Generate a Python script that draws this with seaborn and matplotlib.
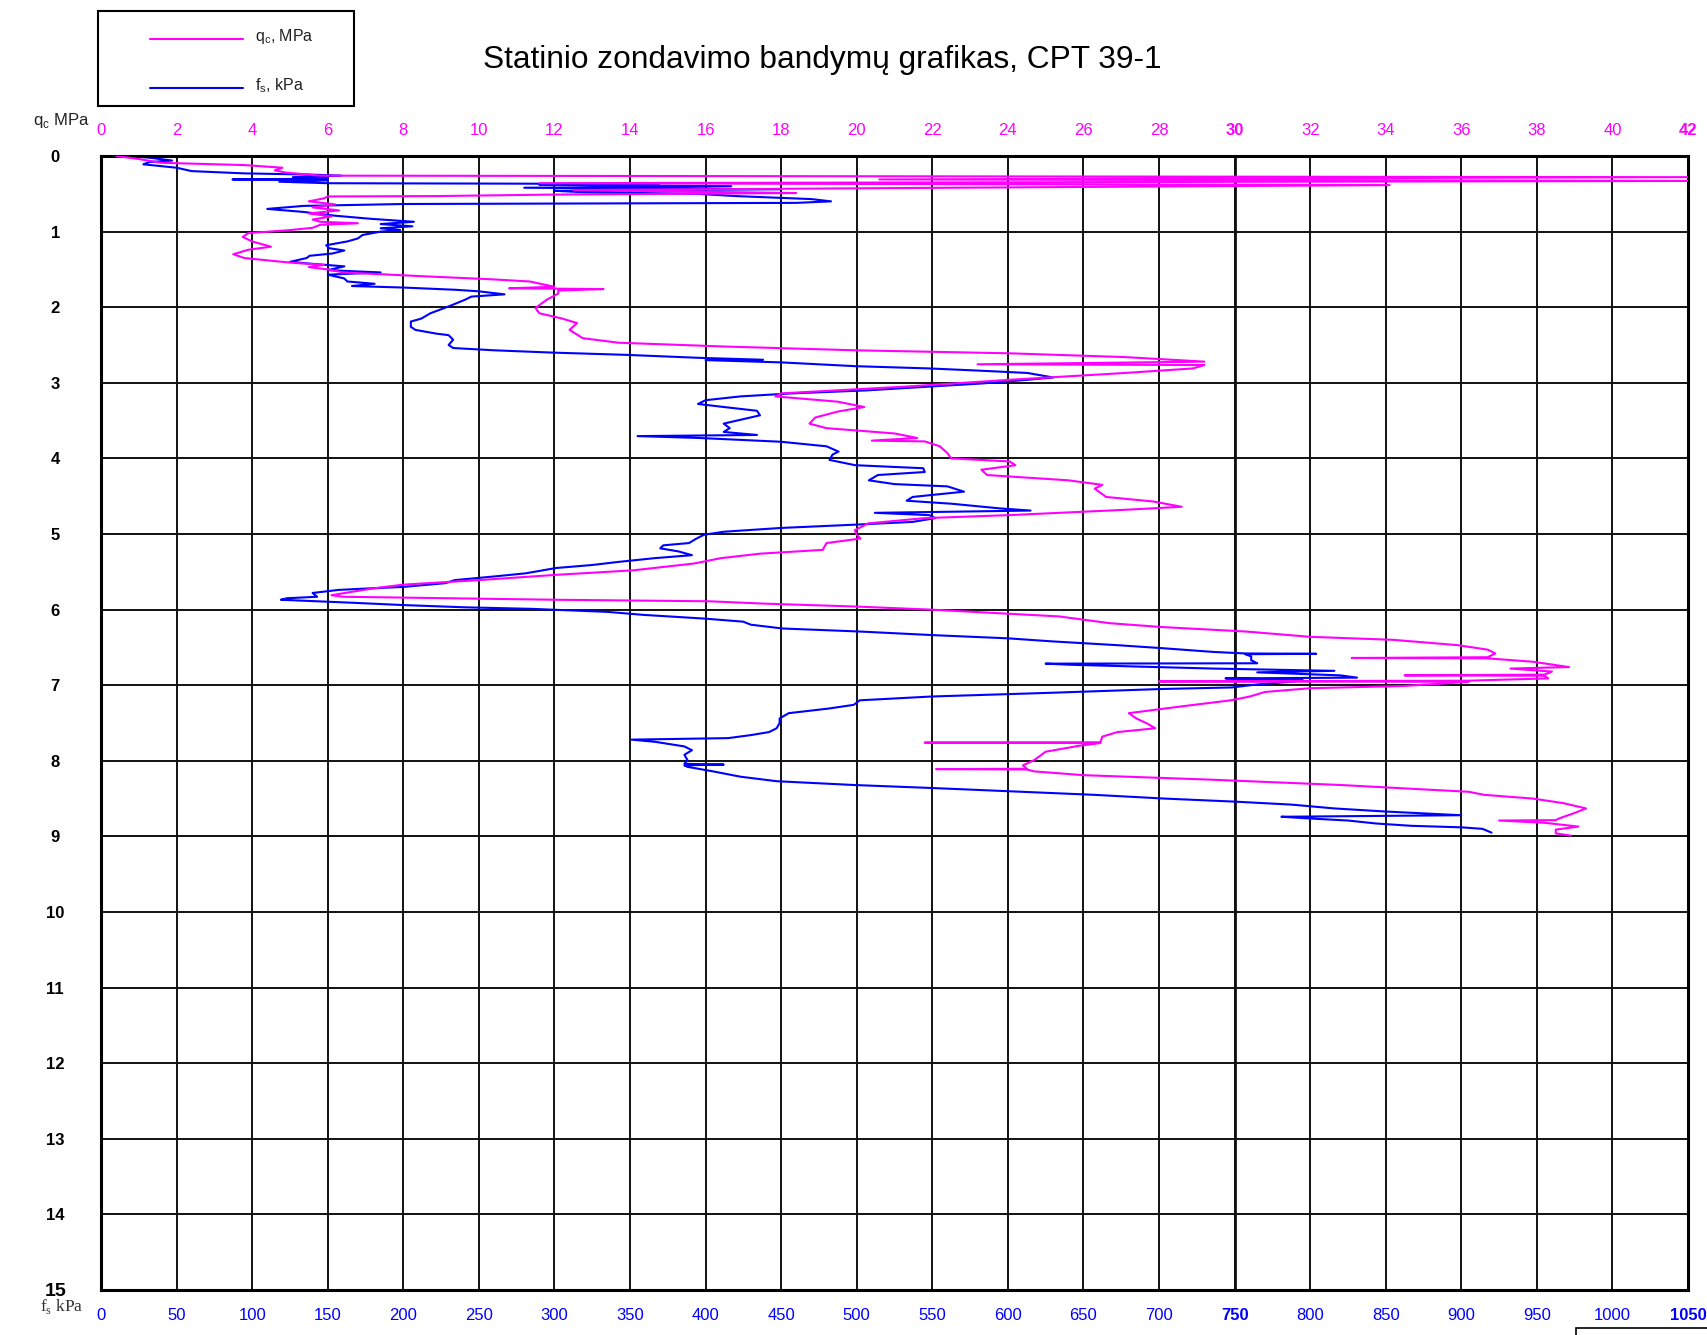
import matplotlib
matplotlib.use("Agg")
import matplotlib.pyplot as plt
from matplotlib.patches import Rectangle
from matplotlib.lines import Line2D
import seaborn as sns

# CPT 39-1 sounding
# cone resistance qc (MPa) vs depth (m)
qc_depth = [
    0.00, 0.04, 0.09, 0.12, 0.155, 0.19, 0.22, 0.26, 0.28, 0.31,
    0.33, 0.36, 0.385, 0.45, 0.49, 0.51, 0.53, 0.535, 0.56, 0.60,
    0.64, 0.68, 0.72, 0.76, 0.80, 0.84, 0.87, 0.89, 0.91, 0.95,
    0.98, 1.02, 1.07, 1.13, 1.20, 1.24, 1.30, 1.35, 1.41, 1.44,
    1.47, 1.50, 1.54, 1.59, 1.63, 1.66, 1.73, 1.75, 1.76, 1.78,
    1.82, 1.90, 2.01, 2.08, 2.15, 2.21, 2.30, 2.41, 2.47, 2.52,
    2.57, 2.61, 2.66, 2.72, 2.755, 2.765, 2.81, 2.87, 2.96, 3.05,
    3.14, 3.18, 3.25, 3.32, 3.38, 3.46, 3.54, 3.60, 3.67, 3.73,
    3.765, 3.775, 3.84, 3.93, 4.00, 4.04, 4.09, 4.15, 4.22, 4.29,
    4.35, 4.40, 4.51, 4.57, 4.64, 4.68, 4.75, 4.79, 4.86, 4.95,
    5.01, 5.06, 5.12, 5.21, 5.26, 5.32, 5.39, 5.48, 5.54, 5.61,
    5.67, 5.72, 5.76, 5.81, 5.83, 5.87, 5.89, 5.92, 5.96, 6.00,
    6.09, 6.18, 6.23, 6.29, 6.36, 6.40, 6.47, 6.53, 6.58, 6.63,
    6.64, 6.645, 6.69, 6.76, 6.78, 6.82, 6.86, 6.87, 6.875, 6.91,
    6.94, 6.95, 6.955, 7.01, 7.04, 7.09, 7.15, 7.20, 7.28, 7.37,
    7.44, 7.51, 7.57, 7.62, 7.68, 7.755, 7.76, 7.765, 7.80, 7.88,
    7.99, 8.06, 8.105, 8.11, 8.115, 8.14, 8.19, 8.25, 8.32, 8.41,
    8.45, 8.50, 8.56, 8.63, 8.69, 8.76, 8.785, 8.79, 8.82, 8.87,
    8.91, 8.96, 8.99,
]
qc_mpa = [
    0.4, 1.0, 1.6, 3.8, 4.8, 4.6, 4.9, 5.8, 42.0, 20.6,
    42.0, 11.6, 34.1, 12.5, 18.4, 12.0, 8.9, 6.0, 5.9, 5.5,
    6.2, 5.6, 6.3, 5.5, 6.1, 5.6, 5.8, 6.8, 5.8, 5.6,
    5.0, 3.9, 3.75, 4.0, 4.5, 3.9, 3.5, 3.8, 5.0, 5.9,
    5.5, 6.0, 6.4, 8.5, 10.3, 11.35, 12.0, 10.8, 13.3, 12.1,
    12.1, 11.8, 11.5, 11.6, 12.2, 12.6, 12.4, 12.75, 13.7, 16.5,
    19.95, 24.05, 27.1, 29.2, 23.2, 29.2, 28.9, 27.1, 24.05, 21.3,
    18.0, 17.85, 19.5, 20.2, 19.5, 18.9, 18.75, 19.2, 21.0, 21.6,
    20.4, 21.8, 22.2, 22.4, 22.5, 24.05, 24.2, 23.3, 23.45, 25.6,
    26.5, 26.3, 26.6, 27.85, 28.6, 27.1, 24.05, 21.8, 20.3, 19.95,
    20.0, 20.1, 19.2, 19.1, 17.45, 16.4, 15.7, 14.1, 12.05, 10.0,
    8.0, 7.2, 6.7, 6.1, 6.4, 12.05, 16.1, 17.5, 20.0, 21.95,
    25.35, 26.7, 28.05, 30.3, 32.0, 34.2, 35.9, 36.7, 36.9, 36.7,
    33.1, 36.7, 37.9, 38.85, 37.3, 38.4, 38.2, 34.5, 38.2, 38.3,
    36.2, 28.0, 36.2, 34.5, 32.0, 30.8, 30.4, 29.9, 28.6, 27.2,
    27.4, 27.7, 27.9, 26.9, 26.5, 26.45, 21.8, 26.45, 25.9, 25.0,
    24.7, 24.4, 24.5, 22.1, 24.5, 24.7, 26.0, 29.4, 32.8, 36.2,
    36.6, 37.9, 38.7, 39.3, 39.0, 38.6, 38.5, 37.0, 38.2, 39.1,
    38.5, 38.5, 38.9,
]

# sleeve friction fs (kPa) vs depth (m)
fs_depth = [
    0.00, 0.005, 0.02, 0.06, 0.08, 0.11, 0.155, 0.20, 0.23, 0.245,
    0.26, 0.28, 0.30, 0.31, 0.32, 0.34, 0.36, 0.37, 0.38, 0.40,
    0.42, 0.44, 0.46, 0.48, 0.50, 0.53, 0.57, 0.60, 0.62, 0.635,
    0.66, 0.70, 0.74, 0.79, 0.83, 0.87, 0.90, 0.93, 0.956, 0.98,
    1.00, 1.045, 1.09, 1.13, 1.18, 1.22, 1.25, 1.29, 1.32, 1.35,
    1.40, 1.42, 1.46, 1.51, 1.54, 1.57, 1.62, 1.66, 1.69, 1.72,
    1.74, 1.77, 1.79, 1.83, 1.86, 1.90, 1.99, 2.08, 2.15, 2.19,
    2.26, 2.30, 2.35, 2.37, 2.43, 2.50, 2.54, 2.57, 2.60, 2.63,
    2.67, 2.695, 2.70, 2.73, 2.78, 2.81, 2.84, 2.87, 2.93, 2.96,
    3.01, 3.05, 3.10, 3.14, 3.18, 3.23, 3.28, 3.32, 3.37, 3.43,
    3.49, 3.54, 3.60, 3.65, 3.69, 3.705, 3.73, 3.78, 3.84, 3.91,
    3.95, 4.02, 4.09, 4.13, 4.18, 4.22, 4.29, 4.34, 4.37, 4.44,
    4.51, 4.56, 4.60, 4.66, 4.69, 4.72, 4.75, 4.79, 4.84, 4.88,
    4.92, 4.97, 5.01, 5.06, 5.12, 5.15, 5.19, 5.23, 5.28, 5.32,
    5.37, 5.41, 5.45, 5.52, 5.56, 5.61, 5.65, 5.70, 5.72, 5.74,
    5.78, 5.83, 5.85, 5.87, 5.91, 5.94, 5.97, 5.99, 6.03, 6.07,
    6.12, 6.16, 6.20, 6.25, 6.29, 6.34, 6.38, 6.42, 6.47, 6.51,
    6.56, 6.58, 6.585, 6.59, 6.62, 6.67, 6.71, 6.715, 6.73, 6.78,
    6.81, 6.83, 6.87, 6.90, 6.91, 6.93, 6.95, 6.99, 7.03, 7.05,
    7.10, 7.15, 7.20, 7.26, 7.31, 7.37, 7.44, 7.50, 7.57, 7.62,
    7.66, 7.70, 7.72, 7.75, 7.81, 7.86, 7.92, 7.99, 8.04, 8.05,
    8.06, 8.08, 8.14, 8.21, 8.27, 8.32, 8.36, 8.41, 8.45, 8.50,
    8.54, 8.58, 8.63, 8.67, 8.72, 8.74, 8.76, 8.79, 8.83, 8.86,
    8.88, 8.90, 8.95,
]
fs_kpa = [
    0, 20, 31, 47, 32, 28, 50, 60, 95, 137,
    159, 127, 150, 87, 150, 118, 150, 369, 290, 417,
    280, 450, 300, 320, 394, 420, 470, 483, 460, 200,
    134, 110, 134, 155, 178, 207, 185, 206, 185, 198,
    185, 173, 170, 163, 149, 151, 161, 153, 138, 136,
    125, 136, 161, 150, 185, 150, 161, 163, 181, 166,
    200, 235, 250, 267, 245, 241, 230, 218, 212, 205,
    205, 208, 222, 230, 233, 230, 233, 260, 298, 347,
    396, 438, 400, 450, 499, 548, 582, 613, 630, 613,
    582, 548, 507, 457, 423, 400, 395, 412, 434, 436,
    423, 412, 416, 412, 434, 355, 396, 450, 480, 488,
    484, 482, 499, 544, 545, 514, 508, 525, 560, 571,
    537, 533, 563, 594, 615, 512, 548, 552, 537, 495,
    450, 412, 399, 394, 389, 372, 370, 382, 391, 366,
    342, 325, 301, 281, 261, 234, 228, 200, 177, 157,
    140, 143, 123, 119, 167, 200, 241, 285, 335, 359,
    400, 425, 430, 451, 502, 553, 600, 629, 672, 702,
    736, 757, 804, 757, 761, 761, 765, 625, 642, 736,
    816, 765, 820, 831, 744, 795, 790, 765, 748, 702,
    629, 549, 502, 498, 481, 455, 449, 449, 447, 442,
    430, 415, 351, 367, 386, 391, 386, 388, 386, 412,
    386, 388, 405, 423, 447, 498, 550, 610, 657, 704,
    750, 788, 816, 849, 900, 781, 797, 825, 844, 867,
    900, 914, 920,
]

qc_ticks = list(range(0, 43, 2))
fs_ticks = list(range(0, 1051, 50))
depth_ticks = list(range(0, 16))

QC_COLOR = "#FF00FF"
FS_COLOR = "#0000FF"

sns.set_style("white")
plt.rcParams["font.family"] = ["Liberation Sans", "DejaVu Sans"]

W, H = 1708, 1335
fig = plt.figure(figsize=(W / 100, H / 100), dpi=100)
ax = fig.add_axes([101 / W, 1 - 1290 / H, 1587 / W, 1134 / H])

# fs on the bottom axis
sns.lineplot(x=fs_kpa, y=fs_depth, sort=False, estimator=None,
             color=FS_COLOR, lw=1.5, ax=ax)

# qc on the top axis
ax2 = ax.twiny()
sns.lineplot(x=qc_mpa, y=qc_depth, sort=False, estimator=None,
             color=QC_COLOR, lw=1.5, ax=ax2)

ax.set_xlim(0, 1050)
ax2.set_xlim(0, 42)
ax.set_ylim(15, 0)

# grid
ax.set_xticks(fs_ticks, labels=[str(v) for v in fs_ticks])
ax.set_yticks(depth_ticks, labels=[str(v) for v in depth_ticks])
ax.grid(True, color="#111111", lw=1.4)
ax.set_axisbelow(True)
ax.axvline(750, color="#111111", lw=2.0, zorder=0.5)
ax.set_xlabel("")
ax.set_ylabel("")
ax2.set_xlabel("")
ax2.set_ylabel("")

ax.tick_params(axis="x", length=0, pad=13, labelsize=12, labelcolor=FS_COLOR)
ax.tick_params(axis="y", length=0, pad=33, labelsize=12, labelcolor="black")
for lbl in ax.get_yticklabels():
    lbl.set_ha("center")
    lbl.set_fontweight("bold")
ax.get_yticklabels()[-1].set_fontsize(14)
for lbl in ax.get_xticklabels():
    if lbl.get_text() in ("750", "1050"):
        lbl.set_fontweight("bold")

ax2.set_xticks(qc_ticks, labels=[str(v) for v in qc_ticks])
ax2.tick_params(axis="x", length=0, pad=13, labelsize=12, labelcolor=QC_COLOR)
for lbl in ax2.get_xticklabels():
    if lbl.get_text() in ("30", "42"):
        lbl.set_fontweight("bold")

for sp in ax.spines.values():
    sp.set_visible(True)
    sp.set_color("black")
    sp.set_linewidth(2.2)
for sp in ax2.spines.values():
    sp.set_visible(False)

# axis captions
fig.text(33 / W, 1 - 121 / H, r"q$_\mathregular{c}$ MPa", fontsize=12,
         color="#222222", ha="left", va="center")
fig.text(40 / W, 1 - 1307 / H, r"f$_\mathregular{s}$ kPa", fontsize=12.5,
         color="#333333", ha="left", va="center", family="Liberation Serif")

# title
fig.text(822 / W, 1 - 60 / H, "Statinio zondavimo bandymų grafikas, CPT 39-1",
         fontsize=22.8, ha="center", va="center", color="black")

# legend box
fig.add_artist(Rectangle((98 / W, 1 - 106 / H), 256 / W, 95 / H,
                         transform=fig.transFigure, fill=False,
                         edgecolor="black", lw=1.5))
fig.add_artist(Line2D([150 / W, 243 / W], [1 - 39 / H, 1 - 39 / H],
                      transform=fig.transFigure, color=QC_COLOR, lw=1.5))
fig.add_artist(Line2D([150 / W, 243 / W], [1 - 88 / H, 1 - 88 / H],
                      transform=fig.transFigure, color=FS_COLOR, lw=1.5))
fig.text(255 / W, 1 - 36 / H, r"q$_\mathregular{c}$, MPa", fontsize=11.5,
         color="#222222", ha="left", va="center")
fig.text(255 / W, 1 - 86 / H, r"f$_\mathregular{s}$, kPa", fontsize=11.5,
         color="#222222", ha="left", va="center")

# box edge peeking in at bottom right
fig.add_artist(Rectangle((1576 / W, -0.01), 0.2, 0.01 + 7 / H,
                         transform=fig.transFigure, fill=False,
                         edgecolor="black", lw=1.2))

fig.savefig("out.png", dpi=100)
